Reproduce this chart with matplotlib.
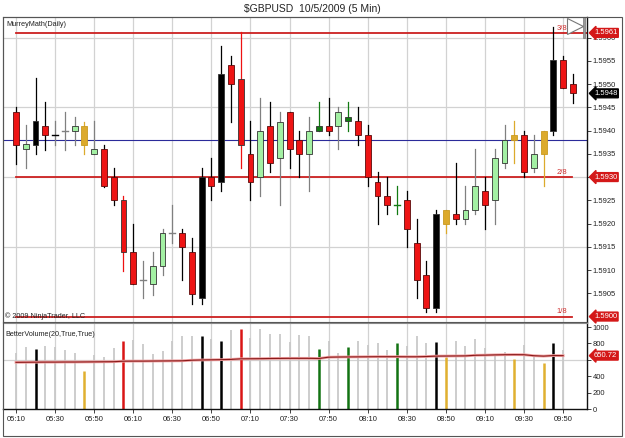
import matplotlib.pyplot as plt
import matplotlib.transforms as mtransforms
from matplotlib.patches import Rectangle

plt.rcParams['font.family'] = ['Liberation Sans', 'DejaVu Sans']

# tick labels along the time axis (every 4th bar, 5 min bars)
time_labels = ['05:10', '05:30', '05:50', '06:10', '06:30', '06:50', '07:10', '07:30',
               '07:50', '08:10', '08:30', '08:50', '09:10', '09:30', '09:50']

# OHLC, bars 05:10 .. 09:55
opens = [1.59439, 1.59360, 1.59370, 1.59410, 1.59390, 1.59400, 1.59400, 1.59410, 1.59349, 1.59360,
         1.59300, 1.59250, 1.59139, 1.59078, 1.59069, 1.59109, 1.59179, 1.59179, 1.59139, 1.59039,
         1.59300, 1.59290, 1.59541, 1.59511, 1.59349, 1.59300, 1.59410, 1.59340, 1.59440, 1.59380,
         1.59350, 1.59400, 1.59410, 1.59410, 1.59421, 1.59421, 1.59390, 1.59290, 1.59260, 1.59240,
         1.59250, 1.59159, 1.59089, 1.59019, 1.59230, 1.59220, 1.59210, 1.59230, 1.59270, 1.59250,
         1.59330, 1.59380, 1.59390, 1.59320, 1.59349, 1.59400, 1.59551, 1.59501]
highs = [1.59451, 1.59411, 1.59512, 1.59461, 1.59421, 1.59440, 1.59430, 1.59419, 1.59421, 1.59370,
         1.59320, 1.59260, 1.59199, 1.59119, 1.59139, 1.59189, 1.59240, 1.59189, 1.59170, 1.59320,
         1.59340, 1.59581, 1.59561, 1.59612, 1.59421, 1.59471, 1.59461, 1.59440, 1.59440, 1.59400,
         1.59430, 1.59461, 1.59471, 1.59451, 1.59461, 1.59451, 1.59411, 1.59310, 1.59300, 1.59280,
         1.59270, 1.59210, 1.59119, 1.59230, 1.59230, 1.59331, 1.59280, 1.59360, 1.59300, 1.59360,
         1.59411, 1.59421, 1.59400, 1.59390, 1.59400, 1.59622, 1.59561, 1.59521]
lows = [1.59329, 1.59320, 1.59349, 1.59359, 1.59370, 1.59359, 1.59370, 1.59349, 1.59349, 1.59278,
        1.59239, 1.59098, 1.59069, 1.59039, 1.59047, 1.59089, 1.59159, 1.59078, 1.59028, 1.59028,
        1.59250, 1.59270, 1.59419, 1.59320, 1.59250, 1.59260, 1.59310, 1.59240, 1.59320, 1.59300,
        1.59270, 1.59400, 1.59390, 1.59360, 1.59400, 1.59370, 1.59280, 1.59199, 1.59220, 1.59220,
        1.59150, 1.59039, 1.59009, 1.59009, 1.59179, 1.59199, 1.59199, 1.59220, 1.59189, 1.59199,
        1.59320, 1.59330, 1.59300, 1.59310, 1.59280, 1.59390, 1.59491, 1.59460]
closes = [1.59370, 1.59371, 1.59421, 1.59390, 1.59390, 1.59400, 1.59409, 1.59370, 1.59360, 1.59280,
          1.59250, 1.59139, 1.59069, 1.59078, 1.59109, 1.59179, 1.59179, 1.59150, 1.59049, 1.59300,
          1.59280, 1.59521, 1.59501, 1.59370, 1.59290, 1.59400, 1.59330, 1.59419, 1.59360, 1.59350,
          1.59400, 1.59410, 1.59400, 1.59440, 1.59430, 1.59390, 1.59300, 1.59260, 1.59240, 1.59240,
          1.59189, 1.59078, 1.59019, 1.59220, 1.59199, 1.59210, 1.59230, 1.59280, 1.59240, 1.59340,
          1.59380, 1.59390, 1.59310, 1.59349, 1.59400, 1.59551, 1.59491, 1.59480]

# BetterVolume bar type: n normal, k climax down, r climax up, y low volume, g churn
bar_type = ['n', 'n', 'k', 'n', 'n', 'n', 'n', 'y', 'n', 'n',
            'n', 'r', 'n', 'n', 'n', 'n', 'n', 'n', 'n', 'k',
            'n', 'k', 'n', 'r', 'n', 'n', 'n', 'n', 'n', 'n',
            'n', 'g', 'n', 'n', 'g', 'n', 'n', 'n', 'n', 'g',
            'n', 'n', 'n', 'k', 'y', 'n', 'n', 'n', 'n', 'n',
            'n', 'y', 'n', 'n', 'y', 'k', 'n', 'n']

volume = [679, 752, 732, 772, 752, 720, 687, 459, 659, 630,
          740, 833, 841, 797, 675, 711, 825, 890, 886, 894,
          850, 833, 967, 976, 870, 976, 919, 915, 817, 907,
          894, 735, 833, 686, 751, 829, 776, 804, 714, 808,
          771, 894, 800, 812, 629, 833, 767, 849, 743, 673,
          690, 612, 776, 637, 559, 808, 722]
vol_avg = [569, 570, 571, 572, 572, 573, 573, 574, 575, 576,
           577, 583, 584, 584, 585, 586, 587, 588, 595, 598,
           600, 602, 605, 612, 613, 614, 616, 617, 618, 618,
           618, 616, 632, 634, 635, 636, 637, 638, 638, 638,
           637, 637, 640, 645, 646, 647, 648, 655, 657, 660,
           662, 663, 662, 650, 645, 652, 650.72]

murrey_levels = [1.5961, 1.5930, 1.5900]
murrey_names = ['3/8', '2/8', '1/8']
blue_level = 1.5938

# ---- figure / panel layout (pixel based) ----
W, H = 625, 438
fig = plt.figure(figsize=(W / 100, H / 100), dpi=100)
fig.patch.set_facecolor('white')


def px_axes(x0, y0, x1, y1):
    return fig.add_axes([x0 / W, 1 - y1 / H, (x1 - x0) / W, (y1 - y0) / H])


ax = px_axes(3, 17, 587, 322)
axv = px_axes(3, 323, 587, 409)

n = len(opens)
xs = list(range(n))
xlim = (-1.33, 58.44)

body_col = {'k': 'black', 'r': '#ee1111', 'y': '#dcaa2c', 'g': '#127a12'}
vol_col = {'n': '#c9c9c9', 'k': 'black', 'r': '#d91515', 'y': '#e0b030', 'g': '#137313'}

# grid
for i in range(0, n, 4):
    ax.axvline(i, color='#d2d2d2', lw=0.9, zorder=0)
    axv.axvline(i, color='#d2d2d2', lw=0.9, zorder=0)
for lvl in [1.5915, 1.5930, 1.5945, 1.5960]:
    ax.axhline(lvl, color='#d2d2d2', lw=0.9, zorder=0)
axv.axhline(600, color='#d2d2d2', lw=0.9, zorder=0)

# murrey math lines (top one runs on to the axis)
for lvl, name in zip(murrey_levels, murrey_names):
    x_end = xlim[1] if name == '3/8' else 56.9
    ax.plot([0, x_end], [lvl, lvl], color='#cc2020', lw=1.3, zorder=1)
    ax.text(56.4, lvl + 0.00003, name, color='#d03030', fontsize=5.5,
            ha='right', va='bottom', zorder=7)
ax.axhline(blue_level, color='#2b2b9a', lw=0.8, zorder=1)

# candles
bw = 0.6
for i in xs:
    o, h, l, c, t = opens[i], highs[i], lows[i], closes[i], bar_type[i]
    if t == 'n':
        face = '#a3f0a3' if c > o else ('#ee1414' if c < o else 'black')
        edge = '#333333' if c > o else '#5a0a0a'
        wick = '#808080' if c >= o else 'black'
        if c == o and i in (5, 13, 16):
            face = wick = '#808080'
    else:
        face = body_col[t]
        edge = '#333333' if t != 'y' else '#c99a20'
        wick = face
    ax.plot([i, i], [l, h], color=wick, lw=0.9, zorder=2)
    if o == c:
        ax.plot([i - bw / 2, i + bw / 2], [o, o], color=face, lw=1.0, zorder=3)
    else:
        ax.add_patch(Rectangle((i - bw / 2, min(o, c)), bw, abs(c - o),
                               facecolor=face, edgecolor=edge, lw=0.6, zorder=3))

ax.set_xlim(*xlim)
ax.set_ylim(1.589883, 1.596442)
ax.set_xticks([])
ax.yaxis.tick_right()
ax.set_yticks([round(1.5905 + 0.0005 * k, 4) for k in range(12)])
ax.set_yticklabels(['%.4f' % (1.5905 + 0.0005 * k) for k in range(12)])
ax.tick_params(axis='y', direction='out', length=3, width=0.6, labelsize=5.5, pad=1,
               colors='#222222')

# volume bars
for i in range(len(volume)):
    t = bar_type[i]
    axv.plot([i, i], [0, volume[i]], color=vol_col[t], lw=1.3 if t == 'n' else 1.8, zorder=2,
             solid_capstyle='butt')
axv.plot(range(len(vol_avg)), vol_avg, color='#f0a0a0', lw=2.0, zorder=3)
axv.plot(range(len(vol_avg)), vol_avg, color='#8a1a1a', lw=0.8, zorder=4)
axv.set_xlim(*xlim)
axv.set_ylim(0, 1049)
axv.yaxis.tick_right()
axv.set_yticks(range(0, 1001, 200))
axv.set_yticklabels(['0', '200', '400', '', '800', '1000'])
axv.set_xticks(range(0, n, 4))
axv.set_xticklabels(time_labels)
axv.tick_params(axis='y', direction='out', length=3, width=0.6, labelsize=5.5, pad=1,
                colors='#222222')
axv.tick_params(axis='x', direction='out', length=3, width=0.6, labelsize=5.5, pad=2,
                colors='#222222')

for a in (ax, axv):
    for s in a.spines.values():
        s.set_color('#555555')
        s.set_linewidth(0.8)
    a.spines['right'].set_color('#111111')
    a.spines['right'].set_linewidth(1.0)
axv.spines['bottom'].set_color('#111111')
axv.spines['bottom'].set_linewidth(1.0)
axv.spines['top'].set_color('#888888')

# value tags on the right axis
tr = mtransforms.blended_transform_factory(ax.transAxes, ax.transData)
for lvl in murrey_levels:
    ax.text(1.012, lvl, '%.4f' % lvl, transform=tr, color='white', fontsize=5.5,
            ha='left', va='center', zorder=10, clip_on=False,
            bbox=dict(boxstyle='larrow,pad=0.12', facecolor='#d41818', edgecolor='#d41818'))
ax.text(1.012, closes[-1], '%.4f' % closes[-1], transform=tr, color='white', fontsize=5.5,
        ha='left', va='center', zorder=10, clip_on=False,
        bbox=dict(boxstyle='larrow,pad=0.12', facecolor='black', edgecolor='black'))
trv = mtransforms.blended_transform_factory(axv.transAxes, axv.transData)
axv.text(1.012, vol_avg[-1], '%.2f' % vol_avg[-1], transform=trv, color='white', fontsize=5.5,
         ha='left', va='center', zorder=10, clip_on=False,
         bbox=dict(boxstyle='larrow,pad=0.12', facecolor='#d41818', edgecolor='#d41818'))

# scroll marker in the top right corner
ax.plot([57.2], [1.59625], marker='>', markersize=11, markerfacecolor='white',
        markeredgecolor='#777777', markeredgewidth=0.8, zorder=6, clip_on=False)
ax.add_patch(Rectangle((58.0, 1.59600), 0.25, 0.00045, facecolor='#999999',
                       edgecolor='#777777', lw=0.5, zorder=6))

# texts
fig.text(312 / W, 1 - 9 / H, '$GBPUSD  10/5/2009 (5 Min)', ha='center', va='center',
         fontsize=7.5, color='#222222')
fig.text(6 / W, 1 - 24 / H, 'MurreyMath(Daily)', ha='left', va='center', fontsize=5.2,
         color='#222222')
fig.text(5 / W, 1 - 316 / H, '\u00a9 2009 NinjaTrader, LLC', ha='left', va='center',
         fontsize=5.2, color='#222222')
fig.text(5 / W, 1 - 335 / H, 'BetterVolume(20,True,True)', ha='left', va='center',
         fontsize=5.2, color='#222222')

# outer frame
fig.patches.append(Rectangle((3 / W, 1 - 436 / H), 619 / W, 419 / H, transform=fig.transFigure,
                             fill=False, edgecolor='#555555', lw=0.8))

fig.savefig('out.png', dpi=100)
